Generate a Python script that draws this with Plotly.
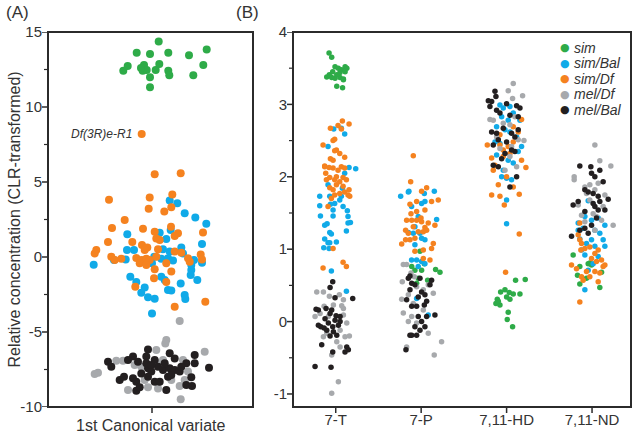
import plotly.graph_objects as go

# ---------------- Panel A: 1st canonical variate (x offset, value) ----------------
A_SIM = [(-28.7, 12.42), (-24.3, 12.73), (-15.3, 13.62), (-8, 12.8), (-9.3, 12.42), (-5.3, 12.47),
         (-2, 13.53), (-2, 11.98), (-2, 11.31), (3.7, 12.47), (7.3, 12.87), (6.7, 14.36), (16.3, 13.62),
         (16.3, 12.42), (17.3, 12.11), (37, 13.45), (41.3, 12.11), (51.3, 12.8), (54.7, 13.84), (-11, 12.6)]
A_SIM_BAL = [(-58.3, -0.51), (17.7, 3.76), (25.3, 3.58), (32.7, 2.91), (43.3, 2.64), (54.3, 2.22),
             (-24.7, 1.51), (7.7, 1.62), (14.3, 1.2), (18.7, 1.8), (50, 0.87), (-25, 0.47), (-18, 0.47),
             (11, 0.51), (29.3, 0.64), (31, 0.24), (2.3, 0.02), (9.3, -0.11), (16, -0.09), (21, -0.24),
             (-26.3, -0.16), (0, -0.42), (42, -0.2), (50, -0.38), (-38, -0.2), (39.3, -0.87), (38.7, -1.2),
             (-21.7, -1.31), (-15.7, -1.67), (9.3, -1.31), (12.7, -1.53), (45.3, -1.53), (28.7, -1.76),
             (-7.3, -2.04), (-10.7, -2.38), (-4, -2.69), (2.7, -2.78), (16, -2.2), (19.3, -2.24),
             (32.7, -2.53), (33.3, -2.8), (0, -3.76), (-7.3, -0.2), (17.7, 0.36), (39.3, -0.53)]
A_SIM_DF = [(2.7, 5.51), (28.7, 5.58), (-43, 3.82), (-2.3, 3.96), (20.3, 4.16), (-3.3, 3.22), (12.3, 3.04),
            (19.3, 3.31), (-27.3, 2.47), (-40, 1.93), (-9, 1.89), (2.7, 1.69), (19, 2.02), (26, 1.58),
            (22.7, 1.4), (51, 1.64), (-44, 1.0), (-19.7, 1.0), (4.3, 1.24), (7.7, 1.13), (-55.7, 0.47),
            (-57.3, 0.24), (-10, 0.8), (-4.7, 0.64), (-7.3, 0.47), (6, 0.51), (22.7, 0.36), (29.3, 0.29),
            (48.7, 0.16), (50, -0.16), (-40.7, 0.02), (-37.3, -0.2), (-30.7, -0.11), (-15.7, -0.07),
            (-10.7, -0.2), (-5.7, -0.11), (-2.3, -0.2), (4.3, 0.02), (-12.3, -0.42), (-5.7, -0.53),
            (14.3, -0.42), (36, -0.09), (37.7, -0.31), (2.7, -0.82), (19.3, -0.96), (2, -1.42),
            (14.3, -1.67), (-16.7, -1.98), (22.7, -3.31), (53.3, -2.98), (-10.3, 8.2)]
A_MEL_DF = [(27.7, -4.27), (14.3, -5.53), (13.3, -5.76), (4.3, -6.2), (52.7, -6.31), (-54, -7.71),
            (-57.3, -7.8), (-35.7, -6.91), (-29, -6.91), (-24, -8.87), (-4, -8.69), (6, -8.76),
            (27.7, -8.6), (28.7, -9.49), (32.7, -8.2), (31, -6.87), (6, -7.09), (11, -6.87),
            (-10.7, -7.31), (-17.3, -7.2), (19.3, -8.2), (36, -7.64), (-7.3, -8.2)]
A_MEL_BAL = [(-44, -6.98), (-40.7, -7.31), (-19, -6.64), (-14, -6.98), (-4, -6.16), (-5.7, -6.64),
             (2.7, -6.87), (17.7, -6.42), (22.7, -6.76), (42.7, -6.53), (42.7, -7.09), (34.3, -7.09),
             (57, -7.38), (-32.3, -8.2), (-28, -7.98), (-19, -8.09), (-15.7, -8.31), (-10.7, -7.76),
             (-4, -7.42), (-0.7, -7.64), (6, -7.31), (11, -7.53), (17.7, -7.42), (22.7, -7.53),
             (27.7, -7.64), (2.7, -8.31), (7.7, -8.31), (16, -7.98), (19.3, -7.87), (39.3, -8.02),
             (34.3, -8.53), (40, -8.6), (14.3, -8.87), (-15.7, -8.91), (-12.3, -8.69), (-5.7, -7.09),
             (-0.7, -7.2), (-24, -6.87), (-4, -7.98), (12.7, -7.09), (29.3, -7.31)]

# ---------------- Panel B: compounds (jitter, value) per category ----------------
CATEGORIES = ["7-T", "7-P", "7,11-HD", "7,11-ND"]

B_SIM_7T = [(-0.078, 3.71), (-0.047, 3.65), (-0.008, 3.52), (0.03, 3.5), (0.07, 3.48), (0.11, 3.52),
            (0.13, 3.5), (-0.105, 3.38), (-0.047, 3.37), (-0.008, 3.36), (0.05, 3.37), (0.09, 3.35),
            (0.012, 3.41), (-0.075, 3.41), (0.05, 3.44), (-0.035, 3.45), (0.012, 3.25), (0.08, 3.23),
            (0.09, 3.34), (0.11, 3.45)]
B_SIM_7P = [(-0.014, 0.97), (0.005, 0.71), (0.037, 0.8), (-0.073, 0.71), (-0.034, 0.6), (0.076, 0.57),
            (0.169, 0.72), (0.22, 0.68), (-0.111, 0.76), (-0.053, 0.53)]
B_SIM_HD = [(0.105, 0.57), (0.218, 0.58), (-0.07, 0.41), (-0.019, 0.44), (0.031, 0.4), (0.078, 0.38),
            (0.156, 0.38), (0, 0.34), (0.039, 0.31), (-0.109, 0.31), (-0.125, 0.25), (-0.078, 0.23),
            (0.019, 0.13), (0.008, 0.03), (0.07, -0.07), (-0.097, 0.28)]
B_SIM_ND = [(-0.221, 0.92), (-0.143, 0.76), (-0.045, 0.8), (-0.026, 0.81), (-0.006, 0.78), (0.111, 0.68),
            (-0.17, 0.64), (-0.065, 0.6), (-0.143, 0.52), (0.091, 0.47)]

B_BAL_7T = [(-0.023, 2.66), (0.066, 2.67), (0.105, 2.59), (-0.09, 2.42), (0.156, 2.13), (0.234, 2.11),
            (0.105, 2.05), (-0.09, 1.89), (0.078, 1.84), (-0.187, 1.73), (-0.07, 1.73), (0.066, 1.73),
            (-0.187, 1.6), (-0.062, 1.62), (-0.031, 1.54), (0.086, 1.59), (0.136, 1.53), (-0.179, 1.46),
            (-0.031, 1.46), (0.144, 1.45), (0.172, 1.37), (0.144, 1.36), (-0.129, 1.33), (-0.101, 1.35),
            (0.125, 1.25), (-0.07, 1.23), (-0.051, 1.21), (-0.129, 1.14), (0.008, 1.1), (-0.09, 1.09),
            (-0.14, 1.02), (-0.078, 1.01), (-0.051, 0.7), (0.125, 0.42), (-0.07, 1.09), (-0.012, 1.63),
            (0.047, 1.68)]
B_BAL_7P = [(-0.24, 1.73), (-0.143, 1.8), (0.037, 1.77), (0.154, 1.8), (0.044, 1.66), (0.005, 1.63),
            (-0.112, 1.59), (-0.034, 1.45), (0.181, 1.41), (-0.073, 1.31), (-0.15, 1.23), (-0.014, 1.22),
            (0.005, 1.15), (0.044, 1.13), (-0.073, 1.06), (-0.112, 0.85), (-0.053, 0.85), (0.005, 0.83),
            (-0.034, 0.76), (0.044, 0.8), (-0.053, 0.32), (0.083, 0.09), (-0.092, 1.22), (-0.15, 1.79)]
B_BAL_HD = [(0, 1.35), (-0.078, 2.99), (-0.039, 2.95), (0.039, 2.97), (-0.058, 2.83), (0.078, 2.88),
            (0.156, 2.78), (-0.117, 2.69), (-0.019, 2.65), (0.039, 2.62), (-0.136, 2.48), (-0.078, 2.46),
            (0.175, 2.42), (0.136, 2.35), (0.019, 2.23), (0.078, 2.19), (-0.039, 2.09), (-0.058, 2.0),
            (0, 1.98), (0.058, 1.96), (0, 1.68), (-0.117, 2.3), (0.117, 2.55), (0.019, 2.78)]
B_BAL_ND = [(-0.045, 1.67), (-0.084, 1.45), (-0.006, 1.4), (0.072, 1.43), (0.15, 1.33), (-0.162, 1.36),
            (-0.104, 1.29), (0.033, 1.26), (0.091, 1.22), (0.13, 1.13), (-0.143, 1.14), (-0.006, 1.13),
            (-0.065, 1.08), (-0.123, 0.99), (0.033, 1.04), (-0.084, 0.92), (0.072, 0.9), (0.013, 0.8),
            (-0.045, 0.71), (-0.084, 0.44), (0.15, 1.04), (-0.162, 1.26)]

B_DF_7T = [(0.078, 2.77), (0.156, 2.73), (0.027, 2.71), (-0.062, 2.67), (0.066, 2.66), (-0.012, 2.52),
           (-0.031, 2.5), (-0.148, 2.44), (0.008, 2.37), (-0.012, 2.36), (0.047, 2.32), (0.105, 2.27),
           (-0.062, 2.25), (-0.129, 2.15), (-0.031, 2.23), (0.066, 2.14), (-0.117, 2.05), (-0.07, 1.99),
           (0.008, 2.0), (0.086, 1.99), (0.105, 2.12), (0.125, 1.96), (-0.129, 2.14), (-0.031, 2.12),
           (-0.012, 1.96), (-0.109, 1.96), (0.008, 1.89), (0.086, 1.87), (0.156, 1.82), (0.105, 1.79),
           (-0.07, 1.85), (-0.031, 1.82), (0.144, 1.75), (-0.051, 1.7), (-0.09, 1.59), (0.164, 1.73),
           (-0.012, 1.75), (0.047, 1.77), (-0.148, 0.74), (0.086, 0.82), (0.125, 0.76), (-0.031, 1.01),
           (0.027, 2.09), (-0.078, 2.13), (0.047, 1.93)]
B_DF_7P = [(-0.092, 2.29), (-0.123, 1.93), (0.064, 1.85), (0.005, 1.8), (0.122, 1.66), (0.2, 1.68),
           (-0.053, 1.66), (-0.131, 1.62), (0.044, 1.54), (-0.053, 1.52), (-0.119, 1.49), (-0.17, 1.4),
           (-0.111, 1.4), (-0.053, 1.4), (0.005, 1.38), (0.083, 1.36), (0.044, 1.3), (-0.182, 1.26),
           (-0.15, 1.22), (0.025, 1.24), (0.064, 1.26), (-0.034, 1.24), (-0.131, 1.13), (-0.182, 1.13),
           (-0.228, 1.07), (-0.073, 1.15), (0.161, 1.33), (0.142, 1.08), (0.122, 1.01), (0.025, 0.99),
           (-0.073, 0.97), (0.025, 0.87), (0.103, 0.85), (-0.092, 1.31), (-0.002, 1.43)]
B_DF_HD = [(-0.012, 0.68), (0.148, 1.21), (-0.226, 2.44), (-0.175, 2.26), (-0.156, 2.09), (-0.136, 2.16),
           (-0.097, 1.89), (-0.175, 1.75), (-0.078, 1.73), (-0.027, 1.61), (0.148, 1.76), (0.078, 1.86),
           (0.226, 2.13), (0.175, 2.23), (-0.039, 2.37), (-0.078, 2.44), (0.019, 2.42), (0.078, 2.48),
           (0.039, 2.32), (0.136, 2.62), (0.175, 2.79), (0.078, 2.69), (-0.078, 2.58), (-0.039, 2.28),
           (0, 2.0)]
B_DF_ND = [(-0.143, 1.36), (-0.162, 1.2), (-0.143, 1.13), (-0.123, 1.08), (-0.131, 0.99), (-0.084, 1.01),
           (-0.026, 1.03), (0.033, 0.94), (0.072, 0.99), (-0.006, 0.87), (0.052, 0.83), (0.111, 0.85),
           (0.15, 0.78), (-0.24, 0.78), (-0.182, 0.73), (-0.065, 0.69), (0.033, 0.69), (0.091, 0.67),
           (-0.123, 0.62), (-0.026, 0.62), (-0.104, 0.57), (0.072, 0.55), (-0.143, 0.27), (0.13, 0.76)]

B_MDF_7T = [(-0.222, 0.41), (-0.144, 0.41), (-0.074, 0.35), (0.043, 0.37), (0.09, 0.3), (0.09, 0.18),
            (-0.136, 0.21), (-0.183, 0.11), (0.09, 0.09), (-0.086, 0.07), (0.129, -0.02), (0.051, -0.12),
            (-0.105, -0.16), (0.109, -0.21), (0.012, -0.28), (0.051, -0.35), (-0.047, -0.46),
            (-0.144, -0.21), (0.16, -0.2), (0.031, -0.83), (-0.047, -0.99), (0.07, 0.22), (-0.027, 0.23),
            (-0.242, 0.07)]
B_MDF_7P = [(-0.209, 0.79), (-0.17, 0.79), (-0.221, 0.55), (-0.119, 0.67), (-0.08, 0.62), (0.083, 0.51),
            (0.142, 0.39), (-0.228, 0.31), (-0.15, 0.37), (-0.209, 0.12), (-0.111, 0.07), (-0.15, 0.0),
            (-0.053, -0.02), (0.083, -0.16), (0.239, -0.28), (0.153, -0.46), (-0.17, -0.35), (0.025, 0.16),
            (-0.092, 0.25), (-0.053, 0.48), (0.025, 0.44)]
B_MDF_HD = [(0.078, 3.29), (0.019, 3.19), (0.187, 3.12), (0.07, 3.08), (-0.195, 2.79), (-0.156, 2.78),
            (-0.039, 2.74), (0.039, 2.72), (0.097, 2.83), (0.203, 2.5), (0.136, 2.51), (-0.078, 2.39),
            (0.058, 2.42), (-0.019, 2.09), (0.039, 2.28), (0.117, 2.14), (-0.117, 2.55)]
B_MDF_ND = [(0.033, 2.44), (0.091, 2.22), (0.22, 2.15), (-0.209, 2.0), (-0.209, 1.96), (-0.084, 1.86),
            (-0.026, 1.89), (0.033, 1.82), (0.072, 1.91), (-0.065, 1.77), (0.15, 1.75), (-0.162, 1.61),
            (-0.123, 1.47), (0.013, 1.49), (0.052, 1.45), (0.111, 1.4), (-0.084, 1.38), (0.247, 1.33),
            (0.033, 1.26), (0.13, 1.59), (-0.026, 1.68)]

B_MBAL_7T = [(-0.035, 0.55), (-0.066, 0.47), (-0.008, 0.33), (0.199, 0.32), (-0.23, 0.17), (-0.203, 0.16),
             (-0.113, 0.18), (-0.047, 0.16), (0.004, 0.08), (0.051, 0.07), (-0.203, -0.05), (-0.175, -0.07),
             (-0.086, -0.02), (-0.035, -0.07), (-0.027, -0.14), (0.012, -0.19), (-0.066, -0.2),
             (-0.136, -0.09), (0.051, 0.0), (0.031, -0.05), (0.129, -0.35), (0.109, -0.42), (0.148, -0.39),
             (-0.164, -0.32), (-0.035, -0.42), (-0.242, -0.62), (-0.055, -0.63), (-0.066, 0.11),
             (-0.125, 0.04), (-0.008, 0.02), (-0.105, -0.12)]
B_MBAL_7P = [(-0.131, 0.63), (-0.15, 0.6), (-0.111, 0.53), (-0.014, 0.6), (0.122, 0.57), (0.103, 0.51),
             (-0.073, 0.51), (-0.131, 0.44), (0.005, 0.41), (0.044, 0.37), (-0.034, 0.34), (0.064, 0.28),
             (-0.17, 0.3), (-0.111, 0.21), (-0.053, 0.21), (0.037, 0.23), (0.064, 0.07), (0.161, 0.09),
             (-0.034, 0.07), (-0.073, -0.07), (-0.053, -0.19), (-0.111, -0.19), (-0.014, -0.12),
             (0.044, -0.07), (-0.131, -0.19), (-0.178, -0.39), (0.005, 0.0)]
B_MBAL_HD = [(-0.136, 3.18), (-0.125, 3.11), (-0.214, 3.05), (-0.175, 3.04), (-0.195, 2.97), (-0.117, 2.92),
             (0.117, 2.98), (0.156, 2.95), (0, 3.01), (-0.078, 2.88), (0.039, 2.85), (0.136, 2.83),
             (-0.175, 2.62), (-0.117, 2.6), (-0.039, 2.67), (0.058, 2.6), (0.136, 2.65), (-0.156, 2.44),
             (-0.097, 2.51), (0, 2.48), (0.097, 2.55), (-0.019, 2.32), (0.097, 2.35), (-0.156, 2.16),
             (-0.097, 2.14), (0.117, 2.0), (0.039, 1.86), (0.058, 2.37), (-0.058, 2.25)]
B_MBAL_ND = [(-0.143, 2.15), (-0.014, 2.14), (0.091, 2.09), (-0.006, 2.05), (0.033, 2.0), (0.13, 1.93),
             (-0.084, 1.82), (-0.045, 1.79), (0.013, 1.77), (0.072, 1.73), (0.189, 1.69), (-0.221, 1.61),
             (-0.162, 1.66), (0.033, 1.59), (0.072, 1.54), (0.15, 1.54), (-0.084, 1.52), (0.052, 1.43),
             (-0.006, 1.33), (-0.143, 1.26), (-0.084, 1.29), (-0.24, 1.18), (-0.045, 1.22), (0.013, 1.63),
             (0.091, 1.66)]

GROUPS = ["sim", "sim/Bal", "sim/Df", "mel/Df", "mel/Bal"]
COLORS = ["#2eab48", "#10aae8", "#f5821f", "#a7a9ac", "#231f20"]
A_DATA = [A_SIM, A_SIM_BAL, A_SIM_DF, A_MEL_DF, A_MEL_BAL]
B_DATA = [[B_SIM_7T, B_SIM_7P, B_SIM_HD, B_SIM_ND],
          [B_BAL_7T, B_BAL_7P, B_BAL_HD, B_BAL_ND],
          [B_DF_7T, B_DF_7P, B_DF_HD, B_DF_ND],
          [B_MDF_7T, B_MDF_7P, B_MDF_HD, B_MDF_ND],
          [B_MBAL_7T, B_MBAL_7P, B_MBAL_HD, B_MBAL_ND]]

A_YTICKS = [-10, -5, 0, 5, 10, 15]
A_YTICKTEXT = ["-10", "-5", "0", "5", "10", "15"]
A_YMINOR = [-7.5, -2.5, 2.5, 7.5, 12.5]
A_XTICKS = [0]
B_YTICKS = [-1, 0, 1, 2, 3, 4]
B_YTICKTEXT = ["-1", "0", "1", "2", "3", "4"]
B_YMINOR = [-0.5, 0.5, 1.5, 2.5, 3.5]
B_XTICKS = [0, 1, 2, 3]

FONT = "Liberation Sans, Arial, sans-serif"
TXT = "#333333"
LINE = "#2b2b2b"

# plot-area geometry in pixels
W, H = 633, 436
ML, MR, MT, MB = 48, 2, 32, 29
IW = W - ML - MR
IH = H - MT - MB


def dom(a, b):
    return [(a - ML) / IW, (b - ML) / IW]


def px_x(x):
    return (x - ML) / IW


def px_y(y):
    return 1 - (y - MT) / IH


fig = go.Figure()

for name, color, pts in zip(GROUPS, COLORS, A_DATA):
    fig.add_trace(go.Scatter(
        x=[p[0] for p in pts], y=[p[1] for p in pts], mode="markers",
        marker=dict(size=8, color=color, line=dict(width=0)),
        name=name, showlegend=False, xaxis="x", yaxis="y"))

for name, color, cats in zip(GROUPS, COLORS, B_DATA):
    xs, ys = [], []
    for ci, pts in enumerate(cats):
        xs += [ci + p[0] for p in pts]
        ys += [p[1] for p in pts]
    fig.add_trace(go.Scatter(
        x=xs, y=ys, mode="markers",
        marker=dict(size=5.5, color=color, line=dict(width=0)),
        name=name, showlegend=False, xaxis="x2", yaxis="y2"))


def ax(**kw):
    d = dict(showline=False, ticks="", showgrid=False, zeroline=False, automargin=False,
             ticklabelstandoff=5, tickfont=dict(family=FONT, size=15, color=TXT))
    d.update(kw)
    return d


# ---- frames and tick marks (axis decorations) ----
shapes = []
for xa, ya in (("x", "y"), ("x2", "y2")):
    shapes.append(dict(type="rect", xref=xa + " domain", yref=ya + " domain", x0=0, x1=1, y0=0, y1=1,
                       line=dict(color=LINE, width=2), layer="above"))


def ytick(xa, ya, v, length, width):
    return dict(type="line", xref=xa + " domain", xsizemode="pixel", xanchor=0, x0=-1 - length, x1=-1,
                yref=ya, y0=v, y1=v, line=dict(color=LINE, width=width), layer="above")


def xtick(xa, ya, v, length, width):
    return dict(type="line", yref=ya + " domain", ysizemode="pixel", yanchor=0, y0=-1 - length, y1=-1,
                xref=xa, x0=v, x1=v, line=dict(color=LINE, width=width), layer="above")


for v in A_YTICKS:
    shapes.append(ytick("x", "y", v, 5, 1.5))
for v in A_YMINOR:
    shapes.append(ytick("x", "y", v, 3, 1.2))
for v in A_XTICKS:
    shapes.append(xtick("x", "y", v, 5, 1.5))
for v in B_YTICKS:
    shapes.append(ytick("x2", "y2", v, 5, 1.5))
for v in B_YMINOR:
    shapes.append(ytick("x2", "y2", v, 3, 1.2))
for v in B_XTICKS:
    shapes.append(xtick("x2", "y2", v, 5, 1.5))

annotations = [
    dict(text="(A)", x=px_x(4), y=px_y(12), xref="paper", yref="paper",
         xanchor="left", yanchor="middle", showarrow=False,
         font=dict(size=17, family=FONT, color=TXT)),
    dict(text="(B)", x=px_x(234), y=px_y(12), xref="paper", yref="paper",
         xanchor="left", yanchor="middle", showarrow=False,
         font=dict(size=17, family=FONT, color=TXT)),
    dict(text="<i>Df(3R)e-R1</i>", x=-18, y=8.2, xref="x", yref="y",
         xanchor="right", yanchor="middle", showarrow=False,
         font=dict(size=12, family=FONT, color=TXT)),
    dict(text="Relative concentration (CLR-transformed)", textangle=-90,
         x=px_x(14), y=px_y(219.5), xref="paper", yref="paper",
         xanchor="center", yanchor="middle", showarrow=False,
         font=dict(size=16, family=FONT, color=TXT)),
    dict(text="1st Canonical variate", x=px_x(151), y=px_y(425), xref="paper", yref="paper",
         xanchor="center", yanchor="middle", showarrow=False,
         font=dict(size=16, family=FONT, color=TXT)),
]
# legend drawn as text rows inside panel B
LEG_ROWS_PX = [48, 63.5, 79, 94.5, 110]
for name, color, ry in zip(GROUPS, COLORS, LEG_ROWS_PX):
    annotations.append(dict(text="●", x=px_x(565), y=px_y(ry), xref="paper", yref="paper",
                            xanchor="center", yanchor="middle", showarrow=False,
                            font=dict(size=11, family="DejaVu Sans", color=color)))
    annotations.append(dict(text="<i>%s</i>" % name, x=px_x(572), y=px_y(ry), xref="paper", yref="paper",
                            xanchor="left", yanchor="middle", showarrow=False,
                            font=dict(size=14, family=FONT, color=TXT)))

fig.update_layout(
    width=W, height=H,
    margin=dict(l=ML, r=MR, t=MT, b=MB, autoexpand=False),
    paper_bgcolor="white", plot_bgcolor="white",
    font=dict(family=FONT, color=TXT),
    showlegend=False,
    xaxis=ax(domain=dom(48, 253), range=[-104, 101], tickvals=A_XTICKS, ticktext=[" "]),
    yaxis=ax(range=[-10, 15], tickvals=A_YTICKS, ticktext=A_YTICKTEXT),
    xaxis2=ax(domain=dom(293, 631), range=[-0.5, 3.456], anchor="y2",
              tickvals=B_XTICKS, ticktext=CATEGORIES, ticklabelstandoff=2),
    yaxis2=ax(range=[-1.18, 4], anchor="x2", tickvals=B_YTICKS, ticktext=B_YTICKTEXT),
    shapes=shapes,
    annotations=annotations,
)

fig.write_html("out.html", post_script="document.body.style.margin='0';",
               config={"displayModeBar": False})
